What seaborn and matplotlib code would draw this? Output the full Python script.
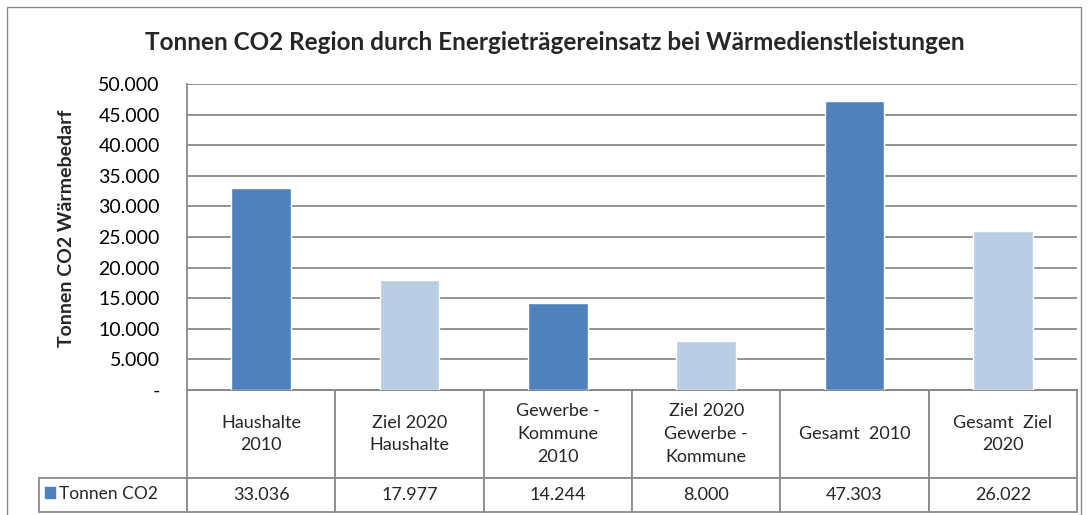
import matplotlib
matplotlib.use("Agg")
import matplotlib.pyplot as plt
import seaborn as sns
from matplotlib.patches import Rectangle

# data
categories = ["Haushalte\n2010", "Ziel 2020\nHaushalte", "Gewerbe -\nKommune\n2010",
              "Ziel 2020\nGewerbe -\nKommune", "Gesamt  2010", "Gesamt  Ziel\n2020"]
tonnen_co2 = [33036, 17977, 14244, 8000, 47303, 26022]
bar_colors = ["#4F81BD", "#B9CDE5", "#4F81BD", "#B9CDE5", "#4F81BD", "#B9CDE5"]
y_ticks = [0, 5000, 10000, 15000, 20000, 25000, 30000, 35000, 40000, 45000, 50000]
series_name = "Tonnen CO2"
title = "Tonnen CO2 Region durch Energieträgereinsatz bei Wärmedienstleistungen"
y_label = "Tonnen CO2 Wärmebedarf"


def de_fmt(v):
    # german thousands separator, zero shown as dash (Excel accounting style)
    return "-" if v == 0 else f"{v:,.0f}".replace(",", ".")


sns.set_theme(style="white")
plt.rcParams["font.family"] = ["Lato", "DejaVu Sans"]

W, H = 1088, 515
fig = plt.figure(figsize=(W / 100, H / 100), dpi=100)
ax = fig.add_axes([187 / W, 1 - 390 / H, 890 / W, 306 / H])

sns.barplot(x=categories, y=tonnen_co2, hue=categories, palette=bar_colors,
            legend=False, width=0.4, saturation=1, ax=ax, zorder=3)

ax.set_xlim(-0.5, 5.5)
ax.set_ylim(0, 50000)
ax.set_yticks(y_ticks)
ax.set_yticklabels([de_fmt(v) for v in y_ticks], fontsize=14, color="black")
ax.tick_params(axis="y", length=0, pad=19.5)
ax.tick_params(axis="x", length=0, labelbottom=False)
ax.set_xlabel("")
ax.set_ylabel("")
ax.yaxis.grid(True, color="#8a8a8a", lw=1.3, zorder=0)
ax.xaxis.grid(False)
for side in ["top", "right"]:
    ax.spines[side].set_visible(False)
for side in ["left", "bottom"]:
    ax.spines[side].set_color("#8a8a8a")
    ax.spines[side].set_linewidth(1.3)

# data table below the plot (Excel style); first column holds the series name
col_w = 1 / 6
tbl = ax.table(cellText=[[""] + [de_fmt(v) for v in tonnen_co2]],
               colLabels=[""] + categories,
               cellLoc="center", colLoc="center",
               bbox=[-col_w, -122 / 306, 7 * col_w, 122 / 306])
tbl.auto_set_font_size(False)
tbl.set_fontsize(13)
for (r, c), cell in tbl.get_celld().items():
    cell.set_edgecolor("#8a8a8a")
    cell.set_linewidth(1.3)
    cell.set_height(88 if r == 0 else 34)
    cell.get_text().set_linespacing(1.5)
    if r == 0 and c == 0:
        cell.visible_edges = ""

fig.patches.append(Rectangle((45 / W, 1 - 498 / H), 10 / W, 11 / H,
                             transform=fig.transFigure, color="#4F81BD"))
fig.text(59 / W, 1 - 494 / H, series_name, ha="left", va="center", fontsize=12.5)

fig.text(555 / W, 1 - 42 / H, title, ha="center", va="center",
         fontsize=17.5, fontweight="bold")
fig.text(66 / W, 1 - 228 / H, y_label, ha="center", va="center",
         rotation=90, fontsize=14, fontweight="bold")

# outer chart border
fig.patches.append(Rectangle((7 / W, -0.05), 1074 / W, 1.05 - 7 / H,
                             transform=fig.transFigure, fill=False,
                             edgecolor="#8a8a8a", lw=1))

fig.savefig("out.png", dpi=100)
